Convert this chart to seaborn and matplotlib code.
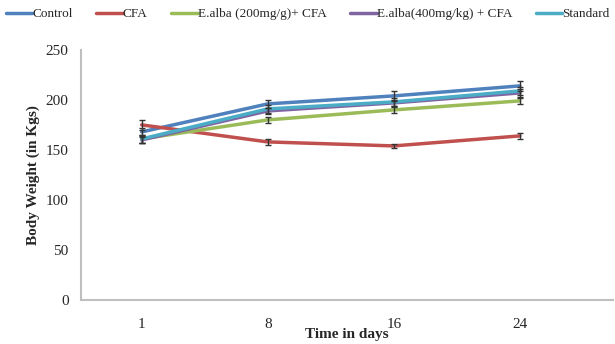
import matplotlib.pyplot as plt
import seaborn as sns
import pandas as pd

# data
days = ["1", "8", "16", "24"]
groups = ["Control", "CFA", "E.alba (200mg/g)+ CFA", "E.alba(400mg/kg) + CFA", "Standard"]
control = [168, 196, 204, 214]
cfa = [175, 158, 154, 164]
ealba200 = [161, 180, 190, 199]
ealba400 = [160, 189, 197, 207]
standard = [161, 191, 198, 209]
control_err = [4, 4, 5, 5]
cfa_err = [5, 3, 2, 3]
ealba200_err = [4, 3, 3, 3]
ealba400_err = [3, 3, 3, 4]
standard_err = [4, 4, 4, 4]
colors = ["#4F81BD", "#C0504D", "#9BBB59", "#8064A2", "#4BACC6"]

values = [control, cfa, ealba200, ealba400, standard]
errors = [control_err, cfa_err, ealba200_err, ealba400_err, standard_err]

rows = []
for g, vals, errs in zip(groups, values, errors):
    for i, (d, v, e) in enumerate(zip(days, vals, errs)):
        rows.append({"group": g, "pos": i, "day": d, "weight": v, "err": e})
df = pd.DataFrame(rows)

sns.set_style("white")
plt.rcParams["font.family"] = ["Liberation Serif", "DejaVu Serif"]

fig, ax = plt.subplots(figsize=(6.15, 3.44), dpi=100)
sns.lineplot(data=df, x="pos", y="weight", hue="group", hue_order=groups,
             palette=colors, linewidth=2.5, ax=ax)
for g in groups:
    sub = df[df["group"] == g]
    ax.errorbar(sub["pos"], sub["weight"], yerr=sub["err"], fmt="none",
                ecolor="#333333", elinewidth=1, capsize=2.5, capthick=1)

ax.set_xlim(-0.48, 3.74)
ax.set_ylim(0, 250)
ax.set_yticks(range(0, 251, 50))
ax.set_xticks(range(len(days)))
ax.set_xticklabels(days)
ax.tick_params(axis="y", length=0, labelsize=11, pad=9)
ax.tick_params(axis="x", length=0, labelsize=11, pad=13)
ax.set_xlabel("Time in days", fontsize=11, fontweight="bold", labelpad=-2)
ax.set_ylabel("Body Weight (in Kgs)", fontsize=11, fontweight="bold", labelpad=4)
for s in ["top", "right"]:
    ax.spines[s].set_visible(False)
for s in ["left", "bottom"]:
    ax.spines[s].set_color("#BFBFBF")
    ax.spines[s].set_linewidth(1.5)

handles, labels = ax.get_legend_handles_labels()
ax.legend(handles, labels, loc="upper center", bbox_to_anchor=(0.426, 1.215), ncol=5,
          frameon=False, fontsize=9.5, handlelength=2.0, handletextpad=0.0,
          columnspacing=1.8)

fig.subplots_adjust(left=0.132, right=0.997, top=0.855, bottom=0.128)
fig.savefig("out.png", dpi=100)
